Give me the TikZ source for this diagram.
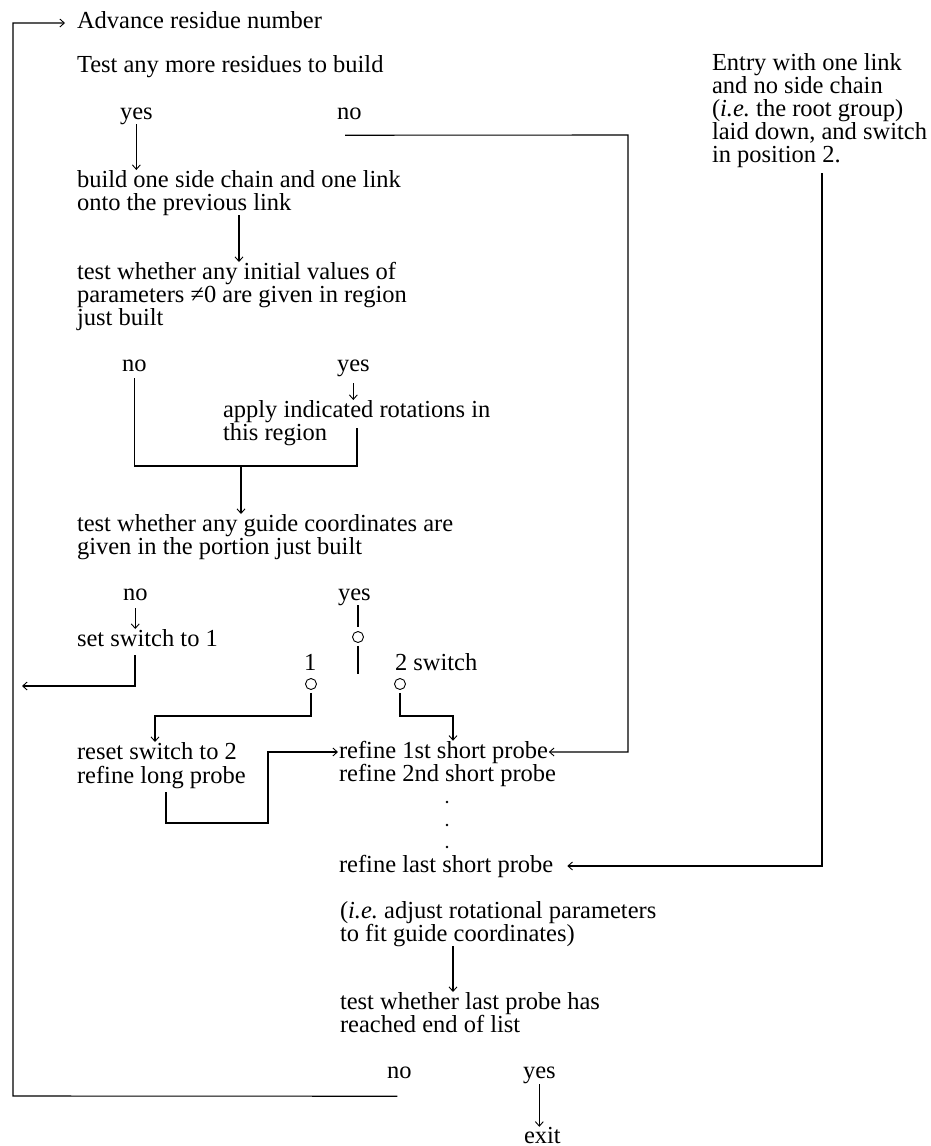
\documentclass[tikz,border=0pt]{standalone}
\usepackage{fontspec}
\setmainfont{Liberation Serif}
\usetikzlibrary{arrows.meta,calc}
\newcommand\myfont{\fontsize{24.5}{23}\selectfont\lineskiplimit=-50pt\lineskip=0pt}
\newcommand\st{\rule{0pt}{17pt}}
\tikzset{
  txt/.style={inner sep=0pt, outer sep=0pt, anchor=base west, font=\myfont},
  blk/.style={inner sep=0pt, outer sep=0pt, anchor=north west, align=left, font=\myfont},
  ln/.style={line width=1.1pt},
  arr/.style={ln, -{Straight Barb[length=4.5pt,width=8pt,line width=0.9pt]}},
  sw/.style={circle, draw, line width=0.9pt, minimum size=11pt, inner sep=0pt},
}
\begin{document}
\begin{tikzpicture}[x=1pt,y=-1pt]
\useasboundingbox (0,0) rectangle (930,1146);
% texts
\node[txt] (adv) at (77,28) {Advance residue number};
\node[txt] (tst) at (77,72) {Test any more residues to build};
\node[txt] (yes1) at (120,119) {yes};
\node[txt] (no1) at (337,119) {no};
\node[blk] (build) at (77,170) {\st build one side chain and one link\\onto the previous link};
\node[blk] (init) at (77,262) {\st test whether any initial values of\\parameters ≠0 are given in region\\just built};
\node[txt] (no2) at (122,371) {no};
\node[txt] (yes2) at (337,371) {yes};
\node[blk] (apply) at (223,400) {\st apply indicated rotations in\\this region};
\node[blk] (guide) at (77,514) {\st test whether any guide coordinates are\\given in the portion just built};
\node[txt] (no3) at (123,600) {no};
\node[txt] (yes3) at (338,600) {yes};
\node[txt] (setsw) at (77,646) {set switch to 1};
\node[txt] (one) at (304,670) {1};
\node[txt] (two) at (395,670) {2 switch};
\node[txt] (reset) at (77,759) {reset switch to 2};
\node[txt] (long) at (77,783) {refine long probe};
\node[txt] (ref1) at (339,758) {refine 1st short probe};
\node[txt] (ref2) at (339,781) {refine 2nd short probe};
\node[txt] (reflast) at (339,872) {refine last short probe};
\node[blk] (ie) at (340,901) {\st(\textit{i.e.}\ adjust rotational parameters\\to fit guide coordinates)};
\node[blk] (testlast) at (340,992) {\st test whether last probe has\\reached end of list};
\node[txt] (no4) at (387,1078) {no};
\node[txt] (yes4) at (523,1078) {yes};
\node[txt] (exit) at (524,1143) {exit};
\node[blk] (entry) at (712,53) {\st Entry with one link\\and no side chain\\(\textit{i.e.}\ the root group)\\laid down, and switch\\in position 2.};
% switch contacts
\node[sw] (c0) at (358,637) {};
\node[sw] (c1) at (311,684) {};
\node[sw] (c2) at (400,684) {};
% dots
\fill (447,802) circle (1.4pt);
\fill (447,825) circle (1.4pt);
\fill (447,847) circle (1.4pt);
% named free ends
\coordinate (applyout) at (357,428);
\coordinate (merge) at (241,466);
\coordinate (loopin) at (22,686);
% connectors
\draw[arr] ($(no4.south)+(-2,18)$) -- (13,1096) -- (13,23) -- ($(adv.base west)+(-12,-5)$);
\draw[arr] (yes1.south) -- (yes1.south |- build.north);
\draw[arr] ($(no1.south west)+(8,16)$) -- (628,135) |- ([xshift=1pt]ref1.east);
\draw[arr] (build.south -| 239,0) -- (init.north -| 239,0);
\draw[ln] ($(no2.south)+(0,7)$) |- (357,466) -- (applyout);
\draw[arr] ($(yes2.south)+(0,7)$) -- (yes2.south |- apply.north);
\draw[arr] (merge) -- (guide.north -| merge);
\draw[arr] ($(no3.south)+(0,8)$) -- (no3.south |- setsw.north);
\draw[arr] ($(setsw.south west)+(58,9)$) |- (loopin);
\draw[ln] (c0.north |- 0,605) -- ([yshift=4pt]c0.north);
\draw[ln] ([yshift=-3pt]c0.south) -- (c0.south |- 0,674);
\draw[arr] ([yshift=-3pt]c1.south) |- (155,716) -- (reset.north -| 155,0);
\draw[arr] ([yshift=-3pt]c2.south) |- (453,716) -- (ref1.north -| 453,0);
\draw[arr] ($(long.south west)+(89,4)$) |- (268,823) |- ([xshift=-1pt]ref1.west);
\draw[arr] ($(entry.south west)+(110,6)$) |- ([xshift=14pt]reflast.east);
\draw[arr] (ie.south -| 453,0) -- (testlast.north -| 453,0);
\draw[arr] ($(yes4.south)+(0,1)$) -- (yes4.south |- exit.north);
\end{tikzpicture}
\end{document}
